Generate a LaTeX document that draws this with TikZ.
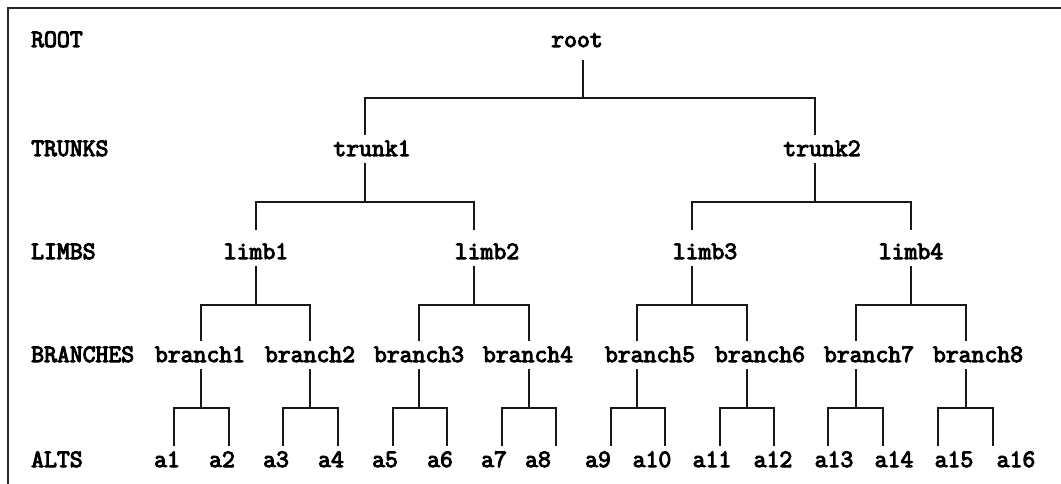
\documentclass[tikz,border=0pt]{standalone}
\usepackage{fontspec}
\newfontfamily\treefont{Latin Modern Mono}[FakeBold=4]
\begin{document}
\begin{tikzpicture}[x=1pt,y=-1pt,
  itm/.style={font=\treefont\fontsize{25}{28}\selectfont,inner xsep=0pt,inner ysep=7pt,text height=14pt,text depth=0pt},
  lvl/.style={itm,anchor=west},
  edge/.style={line width=1.1pt,draw=black!90}]
  \useasboundingbox (0,0) rectangle (1061,484);
  \draw[line width=2.5pt,black!85] (8,484) -- (8,8) -- (1061,8);
  % level names
  \node[lvl] (lroot) at (31,40) {ROOT};
  \node[lvl] (ltrunks) at (31,149) {TRUNKS};
  \node[lvl] (llimbs) at (31,252) {LIMBS};
  \node[lvl] (lbranches) at (31,355) {BRANCHES};
  \node[lvl] (lalts) at (31,460) {ALTS};
  % tree
  \node[itm] (root) at (577,40) {root};
  \node[itm] (trunk1) at (372,149) {trunk1};
  \node[itm] (trunk2) at (822,149) {trunk2};
  \node[itm] (limb1) at (256,252) {limb1};
  \node[itm] (limb2) at (487,252) {limb2};
  \node[itm] (limb3) at (705,252) {limb3};
  \node[itm] (limb4) at (911,252) {limb4};
  \node[itm] (branch1) at (200,355) {branch1};
  \node[itm] (branch2) at (310,355) {branch2};
  \node[itm] (branch3) at (419,355) {branch3};
  \node[itm] (branch4) at (528,355) {branch4};
  \node[itm] (branch5) at (650,355) {branch5};
  \node[itm] (branch6) at (760,355) {branch6};
  \node[itm] (branch7) at (869,355) {branch7};
  \node[itm] (branch8) at (978,355) {branch8};
  \foreach \n/\x in {a1/167,a2/222,a3/276,a4/331,a5/385,a6/440,a7/494,a8/538,
                     a9/598,a10/652,a11/712,a12/773,a13/834,a14/894,a15/954,a16/1016}
    \node[itm] (\n) at (\x,460) {\n};

  \coordinate (rootbar) at (583,98);
  \draw[edge] ([yshift=-6]root.south -| rootbar) -- (rootbar);
  \draw[edge] (trunk1.north -| 365,0) |- (rootbar) -| (trunk2.north -| 815,0);

  \coordinate (trunk1bar) at (365,202);
  \draw[edge] (trunk1.south -| trunk1bar) -- (trunk1bar);
  \draw[edge] ([yshift=8]limb1.north -| 256,0) |- (trunk1bar) -| ([yshift=8]limb2.north -| 474,0);
  \coordinate (trunk2bar) at (815,202);
  \draw[edge] (trunk2.south -| trunk2bar) -- (trunk2bar);
  \draw[edge] ([yshift=8]limb3.north -| 692,0) |- (trunk2bar) -| ([yshift=8]limb4.north -| 911,0);

  \foreach \p/\l/\r/\px/\lx/\rx in {limb1/branch1/branch2/256/201/310,
                                   limb2/branch3/branch4/474/419/529,
                                   limb3/branch5/branch6/692/637/747,
                                   limb4/branch7/branch8/911/856/966} {
    \coordinate (\p bar) at (\px,305);
    \draw[edge] (\p.south -| \p bar) -- (\p bar);
    \draw[edge] (\l.north -| \lx,0) |- (\p bar) -| (\r.north -| \rx,0);
  }
  \foreach \p/\l/\r/\px/\lx/\rx in {branch1/a1/a2/201/174/229,
                                   branch2/a3/a4/310/283/338,
                                   branch3/a5/a6/419/393/447,
                                   branch4/a7/a8/529/502/556,
                                   branch5/a9/a10/637/611/665,
                                   branch6/a11/a12/747/720/774,
                                   branch7/a13/a14/856/828/883,
                                   branch8/a15/a16/966/938/993} {
    \coordinate (\p bar) at (\px,408);
    \draw[edge] (\p.south -| \p bar) -- (\p bar);
    \draw[edge] (\l.north -| \lx,0) |- (\p bar) -| (\r.north -| \rx,0);
  }
\end{tikzpicture}
\end{document}
